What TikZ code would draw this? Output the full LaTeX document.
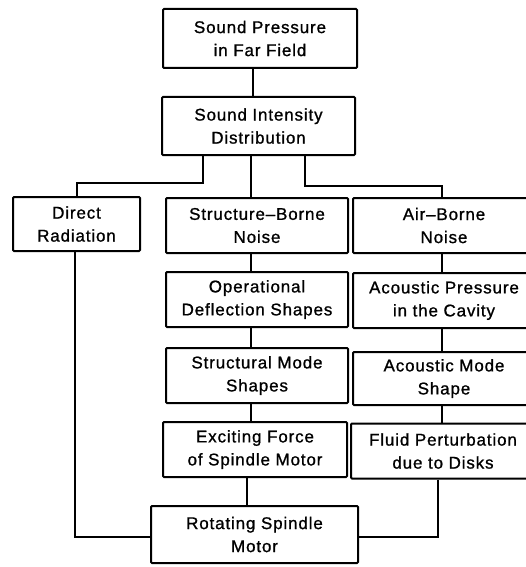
\documentclass[tikz,border=0pt]{standalone}
\usepackage{fontspec}
\setmainfont[LetterSpace=5, FakeBold=1]{Liberation Sans}
\usepackage{tikz}
\usetikzlibrary{positioning,calc}

\begin{document}
\begin{tikzpicture}[x=1pt, y=-1pt]
  % Noise Path Flow Chart
  \tikzstyle{block} = [rectangle, draw=black, line width=2pt, rounded corners=1pt, minimum height=55pt, inner sep=2pt, font=\fontsize{17}{23}\selectfont, align=center]
  \tikzstyle{colbox} = [block, minimum width=182pt]
  \tikzstyle{link} = [line width=2pt, color=black]

  \clip (0,0) rectangle (526,567);

  % Top chain
  \node[block, minimum width=194pt, minimum height=59pt] (far) at (260, 38.5) {Sound Pressure\\in Far Field};
  \node[block, minimum width=193pt, minimum height=58pt] (intens) at (258.5, 126) {Sound Intensity\\Distribution};

  % Three branches
  \node[block, minimum width=127pt, minimum height=54pt] (direct) at (76.5, 224) {Direct\\Radiation};
  \node[colbox] (sbn) at (257, 225.5) {Structure--Borne\\Noise};
  \node[colbox] (abn) at (444, 225.5) {Air--Borne\\Noise};

  % Structure-borne column
  \node[colbox] (ods) at (257, 299.5) {Operational\\Deflection Shapes};
  \node[colbox] (sms) at (257, 375.5) {Structural Mode\\Shapes};
  \node[colbox, minimum width=184pt] (efs) at (255, 449.5) {Exciting Force\\of Spindle Motor};

  % Air-borne column
  \node[colbox] (apc) at (444, 300.5) {Acoustic Pressure\\in the Cavity};
  \node[colbox, minimum height=53pt] (ams) at (444, 378.5) {Acoustic Mode\\Shape};
  \node[colbox, minimum width=184pt] (fpd) at (443, 451) {Fluid Perturbation\\due to Disks};

  % Source
  \node[block, minimum width=207pt, minimum height=57pt] (rsm) at (254.5, 534.5) {Rotating Spindle\\Motor};

  % Connection Lines
  \draw[link] ([xshift=-7pt]far.south) -- ([xshift=-5.5pt]intens.north);
  \draw[link] ([xshift=-55.5pt]intens.south) -- ++(0,27) -| (direct.north);
  \draw[link] ([xshift=-7.5pt]intens.south) -- ([xshift=-6pt]sbn.north);
  \draw[link] ([xshift=46.5pt]intens.south) -- ++(0,30) -| ([xshift=-2pt]abn.north);
  \draw[link] ([xshift=-6pt]sbn.south) -- ([xshift=-6pt]ods.north);
  \draw[link] ([xshift=-6pt]ods.south) -- ([xshift=-6pt]sms.north);
  \draw[link] ([xshift=-6pt]sms.south) -- ([xshift=-4pt]efs.north);
  \draw[link] ([xshift=-8pt]efs.south) -- ([xshift=-7.5pt]rsm.north);
  \draw[link] ([xshift=-2pt]abn.south) -- ([xshift=-2pt]apc.north);
  \draw[link] ([xshift=-2pt]apc.south) -- ([xshift=-2pt]ams.north);
  \draw[link] ([xshift=-2pt]ams.south) -- ([xshift=-1pt]fpd.north);
  \draw[link] ([xshift=-1.5pt]direct.south) |- ([yshift=-2.5pt]rsm.west);
  \draw[link] ([xshift=-5pt]fpd.south) |- ([yshift=-2.5pt]rsm.east);

\end{tikzpicture}
\end{document}
